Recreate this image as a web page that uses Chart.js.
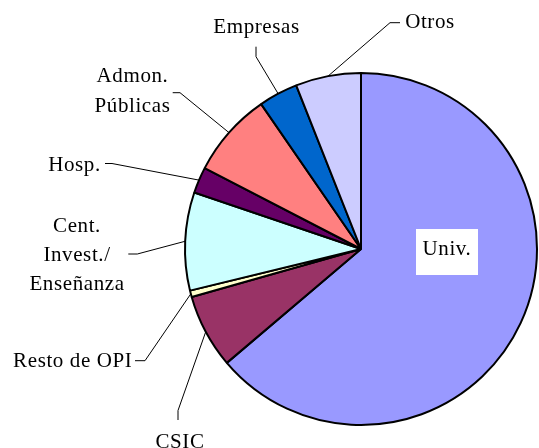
<!DOCTYPE html>
<html>
<head>
<meta charset="utf-8">
<script src="https://cdn.jsdelivr.net/npm/chart.js@4/dist/chart.umd.min.js"></script>
<style>
html,body{margin:0;padding:0;background:#fff;overflow:hidden;}
#wrap{width:539px;height:448px;position:relative;}
</style>
</head>
<body>
<div id="wrap"><canvas id="c" width="539" height="448"></canvas></div>
<script>
// Categories (clockwise from 12 o'clock)
const categories = ["Univ.", "CSIC", "Resto de OPI", "Cent. Invest./ Enseñanza", "Hosp.", "Admon. Públicas", "Empresas", "Otros"];
// Share of each sector (%)
const shares = [63.8, 6.8, 0.6, 9.0, 2.4, 7.8, 3.6, 6.0];
// Label text lines for each slice
const labelLines = [["Univ."], ["CSIC"], ["Resto de OPI"], ["Cent.", "Invest./", "Enseñanza"], ["Hosp."], ["Admon.", "Públicas"], ["Empresas"], ["Otros"]];
const colors = ["#9999FF", "#993366", "#FFFFCC", "#CCFFFF", "#660066", "#FF8080", "#0066CC", "#CCCCFF"];

// Layout of outside labels: text centre x, first baseline y, leader start and elbow
const labelLayout = [
  {x: 447, y: 255, box: [416, 229, 62, 46]},
  {x: 180, y: 447.5, p0: [178, 420], p1: [178, 410.5]},
  {x: 72.7, y: 367.3, p0: [135, 360.7], p1: [145, 360.7]},
  {x: 77, y: 231.7, p0: [128.3, 254], p1: [137.3, 254]},
  {x: 74.5, y: 171, p0: [105, 163.5], p1: [112, 163.5]},
  {x: 132.5, y: 82.3, p0: [172.7, 92.7], p1: [180, 92.7]},
  {x: 256.5, y: 33, p0: [256, 46.7], p1: [256, 56.7]},
  {x: 430, y: 28.3, p0: [400, 22.7], p1: [390, 22.7]}
];
const lineGap = 29.3;

const labelPlugin = {
  id: 'labels',
  afterDraw(chart) {
    const ctx = chart.ctx;
    const meta = chart.getDatasetMeta(0);
    ctx.save();
    ctx.font = '21px "Liberation Serif", "Times New Roman", serif';
    ctx.letterSpacing = '0.6px';
    ctx.fillStyle = '#000';
    ctx.textAlign = 'center';
    ctx.textBaseline = 'alphabetic';
    meta.data.forEach((arc, i) => {
      const L = labelLayout[i];
      if (L.box) {
        ctx.fillStyle = '#fff';
        ctx.fillRect(L.box[0], L.box[1], L.box[2], L.box[3]);
        ctx.fillStyle = '#000';
        ctx.fillText(labelLines[i][0], L.x, L.y);
        return;
      }
      const p = arc.getProps(['x','y','startAngle','endAngle','outerRadius'], true);
      const mid = (p.startAngle + p.endAngle) / 2;
      const ax = p.x + Math.cos(mid) * p.outerRadius;
      const ay = p.y + Math.sin(mid) * p.outerRadius;
      ctx.strokeStyle = '#000';
      ctx.lineWidth = 1;
      ctx.beginPath();
      ctx.moveTo(L.p0[0], L.p0[1]);
      ctx.lineTo(L.p1[0], L.p1[1]);
      ctx.lineTo(ax, ay);
      ctx.stroke();
      labelLines[i].forEach((t, k) => {
        ctx.fillText(t, L.x, L.y + k * lineGap);
      });
    });
    ctx.restore();
  }
};

new Chart(document.getElementById('c'), {
  type: 'pie',
  data: {
    labels: categories,
    datasets: [{
      data: shares,
      backgroundColor: colors,
      borderColor: '#000',
      borderWidth: 2,
      hoverOffset: 0
    }]
  },
  options: {
    responsive: false,
    animation: false,
    layout: {padding: {left: 184, right: 1, top: 72, bottom: 22}},
    plugins: {legend: {display: false}, tooltip: {enabled: false}}
  },
  plugins: [labelPlugin]
});
</script>
</body>
</html>
